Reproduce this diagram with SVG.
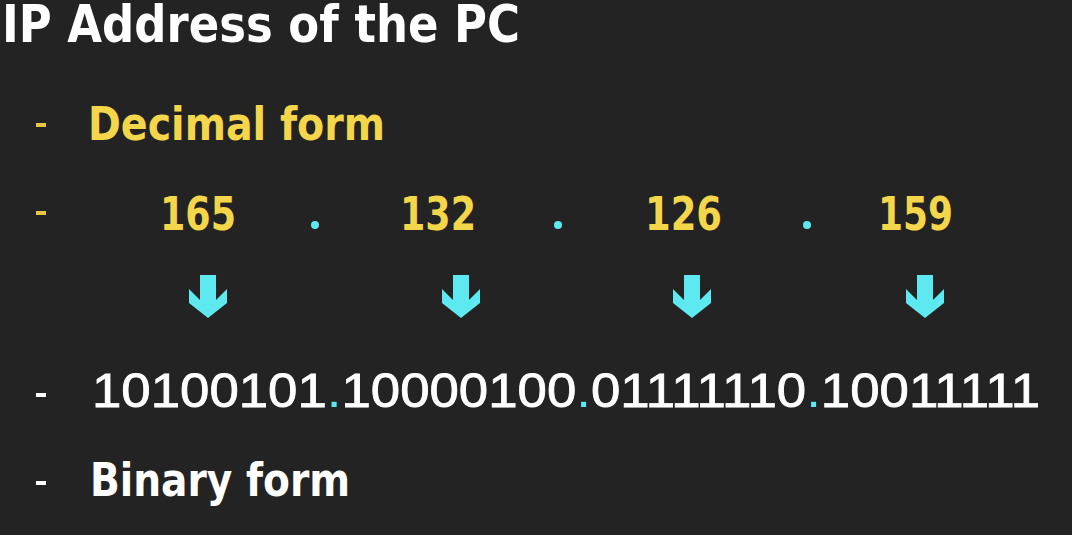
<svg xmlns="http://www.w3.org/2000/svg" width="1072" height="535" viewBox="0 0 1072 535">
<style>
.bg{fill:#232323}
.t{font-family:"DejaVu Sans Condensed","DejaVu Sans","Noto Sans",sans-serif;font-weight:bold}
.title{font-size:52px;fill:#ffffff}
.yel{font-size:46px;fill:#f4d64a}
.num{font-size:47px;fill:#f4d64a}
.wht{font-size:46px;fill:#ffffff}
.bin{font-family:"Liberation Sans",Arial,sans-serif;font-size:48px;fill:#ffffff;stroke:#ffffff;stroke-width:0.8px}
.cy{fill:#5ee8f0;stroke:none}
.dashY{fill:#e8c540}
.dashW{fill:#ffffff}
</style>
<defs>
<polygon id="arrow" points="-8,0 8,0 8,25 19,14 19,28 0,43 -19,28 -19,14 -8,25"/>
</defs>
<rect class="bg" x="0" y="0" width="1072" height="535"/>
<g id="title"><text class="t title" x="2" y="42" textLength="518" lengthAdjust="spacingAndGlyphs">IP Address of the PC</text></g>
<g id="decimal-label">
<rect class="dashY" x="36" y="123" width="10" height="4"/>
<text class="t yel" x="88" y="140" textLength="297" lengthAdjust="spacingAndGlyphs">Decimal form</text>
</g>
<g id="decimal-values">
<rect class="dashY" x="36" y="211" width="10" height="4"/>
<text class="t num" x="160" y="230" textLength="76" lengthAdjust="spacingAndGlyphs">165</text>
<circle class="cy" cx="315" cy="225" r="4"/>
<text class="t num" x="400" y="230" textLength="76" lengthAdjust="spacingAndGlyphs">132</text>
<circle class="cy" cx="558" cy="225" r="4"/>
<text class="t num" x="645" y="230" textLength="77" lengthAdjust="spacingAndGlyphs">126</text>
<circle class="cy" cx="807" cy="225" r="4"/>
<text class="t num" x="878" y="230" textLength="75" lengthAdjust="spacingAndGlyphs">159</text>
</g>
<g id="connectors" class="cy">
<use href="#arrow" x="208" y="275"/>
<use href="#arrow" x="461" y="275"/>
<use href="#arrow" x="692" y="275"/>
<use href="#arrow" x="925" y="275"/>
</g>
<g id="binary-values">
<rect class="dashW" x="36" y="393" width="10" height="4"/>
<text class="bin" x="92" y="407" textLength="948" lengthAdjust="spacingAndGlyphs">10100101<tspan class="cy">.</tspan>10000100<tspan class="cy">.</tspan>01111110<tspan class="cy">.</tspan>10011111</text>
</g>
<g id="binary-label">
<rect class="dashW" x="36" y="481" width="10" height="4"/>
<text class="t wht" x="90" y="496" textLength="260" lengthAdjust="spacingAndGlyphs">Binary form</text>
</g>
</svg>
